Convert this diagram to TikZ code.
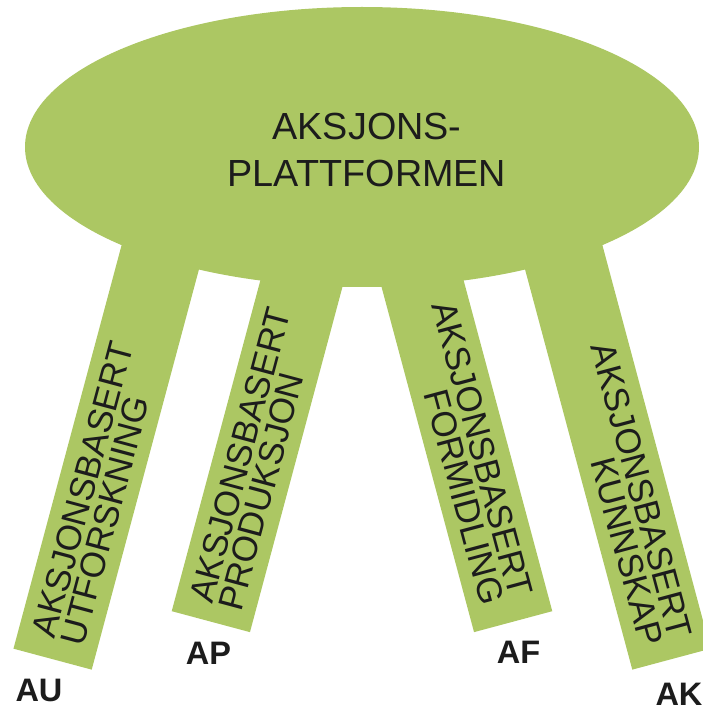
\documentclass[tikz,border=0pt]{standalone}
\usepackage{fontspec}
\setmainfont{Liberation Sans}
\usetikzlibrary{shapes.geometric}

\definecolor{leafgreen}{RGB}{172,199,99}
\definecolor{inkdark}{RGB}{28,28,28}

\tikzset{
  leaf/.style={fill=leafgreen, draw=none},
  leg/.style={leaf, rectangle, minimum width=1.62cm, anchor=south, inner sep=0pt},
  legtext/.style={inner sep=0pt, text=inkdark, font=\fontsize{20}{17}\selectfont},
  hubtext/.style={inner sep=0pt, text=inkdark, align=center, font=\fontsize{21.5}{26.7}\selectfont},
  tag/.style={inner sep=0pt, text=inkdark, font=\fontsize{18.5}{20}\selectfont\bfseries}
}

\begin{document}
\begin{tikzpicture}
        % \draw[help lines, gray!50, very thin] (0,0) grid (14,14);
        \useasboundingbox (0,0) rectangle (14.06,14.22);

        % legs
        \node[leg, rotate=-15, minimum height=9.3cm] (leg1) at (1.05,1.03) {};
        \node[leg, rotate=-15, minimum height=8.2cm] (leg2) at (4.215,1.78) {};
        \node[leg, rotate=15, minimum height=8.2cm] (leg3) at (10.265,1.78) {};
        \node[leg, rotate=15, minimum height=9.3cm] (leg4) at (13.43,1.03) {};

        % platform
        \node[leaf, ellipse, minimum width=13.48cm, minimum height=5.6cm] (hub) at (7.24,11.28) {};
        \node[hubtext] (hubname) at (7.34,11.22) {AKSJONS-\\PLATTFORMEN};

        % leg texts
        \node[legtext, rotate=75, anchor=west, align=left] (txt1) at ([shift={(75:0.39)}]leg1.south) {AKSJONSBASERT\\UTFORSKNING};
        \node[legtext, rotate=75, anchor=west, align=left] (txt2) at ([shift={(75:0.33)}]leg2.south) {AKSJONSBASERT\\PRODUKSJON};
        \node[legtext, rotate=-75, anchor=east, align=right] (txt3) at ([shift={(105:0.46)}]leg3.south) {AKSJONSBASERT\\FORMIDLING};
        \node[legtext, rotate=-75, anchor=east, align=right] (txt4) at ([shift={(105:0.38)}]leg4.south) {AKSJONSBASERT\\KUNNSKAP};

        % short names
        \node[tag] (au) at (0.78,0.41) {AU};
        \node[tag] (ap) at (4.17,1.15) {AP};
        \node[tag] (af) at (10.37,1.17) {AF};
        \node[tag] (ak) at (13.58,0.33) {AK};
\end{tikzpicture}
\end{document}
